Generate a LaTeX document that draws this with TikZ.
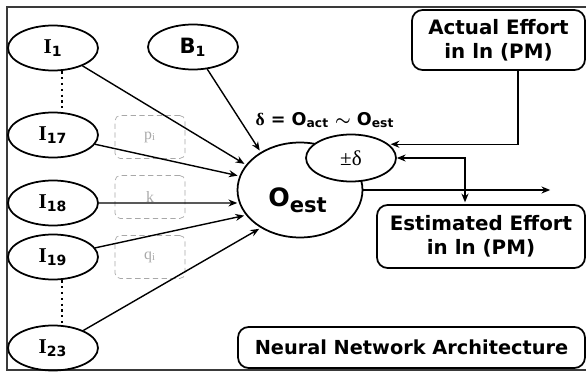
\documentclass[tikz,border=0pt]{standalone}
\usepackage{amsmath}
\usepackage{fontspec}
\setmainfont{DejaVu Sans}
\newfontfamily\serif{Liberation Serif}
\usetikzlibrary{arrows.meta,positioning,shapes.geometric}
\definecolor{frm}{HTML}{3A3A3A}
\definecolor{wg}{HTML}{A8A8A8}
\newcommand{\inp}[1]{{\serif\bfseries I}\textsubscript{\bfseries #1}}
\tikzset{
  inode/.style={draw,line width=1pt,ellipse,minimum width=1.8cm,minimum height=0.9cm,inner sep=0pt,font=\large},
  wbox/.style={draw=wg,densely dashed,rounded corners=3pt,minimum width=1.4cm,minimum height=0.86cm,text=wg,font=\serif\small},
  obox/.style={draw,line width=1pt,rounded corners=6pt,align=center,inner sep=0pt,font=\bfseries\fontsize{11.3}{13.5}\selectfont},
  ar/.style={-{Stealth[length=5pt,width=4pt]},line width=0.8pt,shorten >=1pt},
  dots/.style={dotted,line width=1.3pt},
}
\begin{document}
\begin{tikzpicture}[x=0.02cm,y=-0.02cm]
  \useasboundingbox (0,0) rectangle (586,372);
  % ---- frame
  \draw[frm,line width=1.2pt] (586,7) -- (7,7) -- (7,370) -- (586,370);

  % ---- inputs and bias
  \node[inode] (i1) at (53,48) {\inp{1}};
  \node[inode] (i17) at (53,135) {\inp{17}};
  \node[inode] (i18) at (53,203) {\inp{18}};
  \node[inode] (i19) at (53,257) {\inp{19}};
  \node[inode] (i23) at (53,348) {\inp{23}};
  \node[inode] (b1) at (193,47) {\bfseries B\textsubscript{1}};
  \draw[dots] ([xshift=0.18cm]i1.south) -- ([xshift=0.18cm]i17.north);
  \draw[dots] ([xshift=0.18cm]i19.south) -- ([xshift=0.18cm]i23.north);

  % ---- weights
  \node[wbox] (wp) at (150,137) {p\textsubscript{i}};
  \node[wbox] (wk) at (150,197) {k};
  \node[wbox] (wq) at (150,257) {q\textsubscript{i}};

  % ---- output neuron
  \node[draw,line width=1pt,ellipse,minimum width=2.5cm,minimum height=1.9cm] (o) at (300,190) {};
  \node[font=\bfseries\Large] at (298,200) {O\textsubscript{\large est}};
  \node[draw,line width=1pt,ellipse,fill=white,minimum width=1.8cm,minimum height=0.94cm,font=\serif\large] (pd) at (351,158) {±δ};
  \node[font=\bfseries\normalsize] (dl) at (325,120) {{\serif δ} = O\textsubscript{act} $\boldsymbol{\sim}$ O\textsubscript{est}};
  \foreach \s/\a in {i1/155,b1/136,i17/167,i18/192,i19/205,i23/224}
    \draw[ar] (\s) -- (o.\a);

  % ---- effort boxes
  \node[obox,minimum width=3.46cm,minimum height=1.2cm] (act) at (498.5,40) {Actual Effort\\in ln (PM)};
  \node[obox,minimum width=4.16cm,minimum height=1.26cm] (est) at (481,236.5) {Estimated Effort\\in ln (PM)};
  \node[obox,minimum width=6.94cm,minimum height=0.82cm,font=\bfseries\fontsize{11}{13}\selectfont] (nna) at (411.5,347.5) {Neural Network Architecture};
  \coordinate (out) at (552,190);
  \draw[ar] (o.east) -- (out);
  \draw[ar] ([xshift=0.39cm]act.south) |- (pd.20);
  \draw[ar,{Stealth[length=5pt,width=4pt]}-{Stealth[length=5pt,width=4pt]}] (pd.east) -| ([xshift=-0.32cm]est.north);
\end{tikzpicture}
\end{document}
